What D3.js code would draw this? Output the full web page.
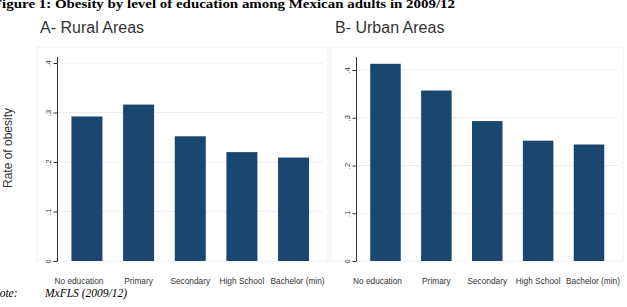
<!DOCTYPE html>
<html>
<head>
<meta charset="utf-8">
<script src="https://cdn.jsdelivr.net/npm/d3@7"></script>
<style>
  body { margin: 0; background: #fff; }
  svg { display: block; }
</style>
</head>
<body>
<svg id="chart" width="627" height="307"></svg>
<script>
// Data
const levels = ['No education', 'Primary', 'Secondary', 'High School', 'Bachelor (min)'];
const ruralRate = [0.292, 0.316, 0.252, 0.220, 0.209];
const urbanRate = [0.413, 0.357, 0.293, 0.252, 0.244];
const yTicks = [0, 0.1, 0.2, 0.3, 0.4];

const barColor = '#1a476f';
const svg = d3.select('#chart');

// figure title (cut off at the left edge, as in the scan)
svg.append('text')
    .attr('x', -7)
    .attr('y', 8)
    .attr('font-family', 'Liberation Serif, Times New Roman, serif')
    .attr('font-weight', 'bold')
    .attr('font-size', 13)
    .attr('textLength', 462)
    .attr('lengthAdjust', 'spacingAndGlyphs')
    .text('Figure 1: Obesity by level of education among Mexican adults in 2009/12');

// note line
svg.append('text')
    .attr('x', -8)
    .attr('y', 297)
    .attr('font-family', 'Liberation Serif, Times New Roman, serif')
    .attr('font-style', 'italic')
    .attr('font-size', 11.5)
    .text('Note:');
svg.append('text')
    .attr('x', 45)
    .attr('y', 297)
    .attr('font-family', 'Liberation Serif, Times New Roman, serif')
    .attr('font-style', 'italic')
    .attr('font-size', 11.5)
    .text('MxFLS (2009/12)');

// y axis title
svg.append('text')
    .attr('transform', 'translate(12,148) rotate(-90)')
    .attr('text-anchor', 'middle')
    .attr('font-family', 'Liberation Sans, Arial, sans-serif')
    .attr('font-size', 12)
    .attr('fill', '#333')
    .text('Rate of obesity');

function drawPanel(cfg) {
    const g = svg.append('g');

    // light plot-region frame
    g.append('rect')
        .attr('x', cfg.frameX0)
        .attr('y', 47)
        .attr('width', cfg.frameX1 - cfg.frameX0)
        .attr('height', 261 - 47)
        .attr('fill', 'none')
        .attr('stroke', '#eef0f2')
        .attr('stroke-width', 1);

    g.append('text')
        .attr('x', cfg.titleX)
        .attr('y', 33)
        .attr('font-family', 'Liberation Sans, Arial, sans-serif')
        .attr('font-size', 16)
        .attr('fill', '#333')
        .text(cfg.title);

    const x = d3.scaleBand()
        .domain(levels)
        .range([cfg.axisX, cfg.plotRight])
        .paddingInner(0.4)
        .paddingOuter(0.27);

    const y = d3.scaleLinear()
        .domain([0, 0.4])
        .range([261, cfg.top04]);

    // gridlines
    g.selectAll('.grid')
        .data(yTicks.slice(1))
        .enter().append('line')
        .attr('class', 'grid')
        .attr('x1', cfg.axisX)
        .attr('x2', cfg.plotRight)
        .attr('y1', d => y(d))
        .attr('y2', d => y(d))
        .attr('stroke', '#eaeef1')
        .attr('stroke-width', 1);

    g.selectAll('.bar')
        .data(cfg.values)
        .enter().append('rect')
        .attr('class', 'bar')
        .attr('x', (d, i) => x(levels[i]))
        .attr('width', x.bandwidth())
        .attr('y', d => y(d))
        .attr('height', d => y(0) - y(d))
        .attr('fill', barColor);

    // y axis
    const yAxis = g.append('g')
        .attr('transform', `translate(${cfg.axisX},0)`)
        .call(d3.axisLeft(y).tickValues(yTicks).tickSize(4).tickFormat(d => d === 0 ? '0' : d3.format('.1f')(d).replace(/^0/, '')));
    yAxis.select('.domain').remove();
    yAxis.selectAll('.tick line').attr('stroke', '#333');
    yAxis.selectAll('.tick text')
        .attr('transform', 'rotate(-90)')
        .attr('x', 0)
        .attr('y', -7)
        .attr('dy', 0)
        .attr('text-anchor', 'middle')
        .attr('font-family', 'Liberation Sans, Arial, sans-serif')
        .attr('font-size', 7.5)
        .attr('fill', '#333');
    g.append('line')
        .attr('x1', cfg.axisX).attr('x2', cfg.axisX)
        .attr('y1', 57).attr('y2', 261)
        .attr('stroke', '#333')
        .attr('stroke-width', 1);

    // category labels; the outer ones sit a little wider apart, as Stata drew them
    const nudge = i => i === 0 ? -8 : (i === levels.length - 1 ? 4 : 0);
    g.selectAll('.xlab')
        .data(levels)
        .enter().append('text')
        .attr('class', 'xlab')
        .attr('x', (d, i) => x(d) + x.bandwidth() / 2 + nudge(i))
        .attr('y', 284)
        .attr('text-anchor', 'middle')
        .attr('font-family', 'Liberation Sans, Arial, sans-serif')
        .attr('font-size', 8.3)
        .attr('fill', '#333')
        .text(d => d);
}

drawPanel({ title: 'A- Rural Areas', titleX: 40, values: ruralRate, axisX: 57.5, plotRight: 323, top04: 63, frameX0: 37, frameX1: 328 });
drawPanel({ title: 'B- Urban Areas', titleX: 335, values: urbanRate, axisX: 356.5, plotRight: 618, top04: 70, frameX0: 331, frameX1: 623 });
</script>
</body>
</html>
